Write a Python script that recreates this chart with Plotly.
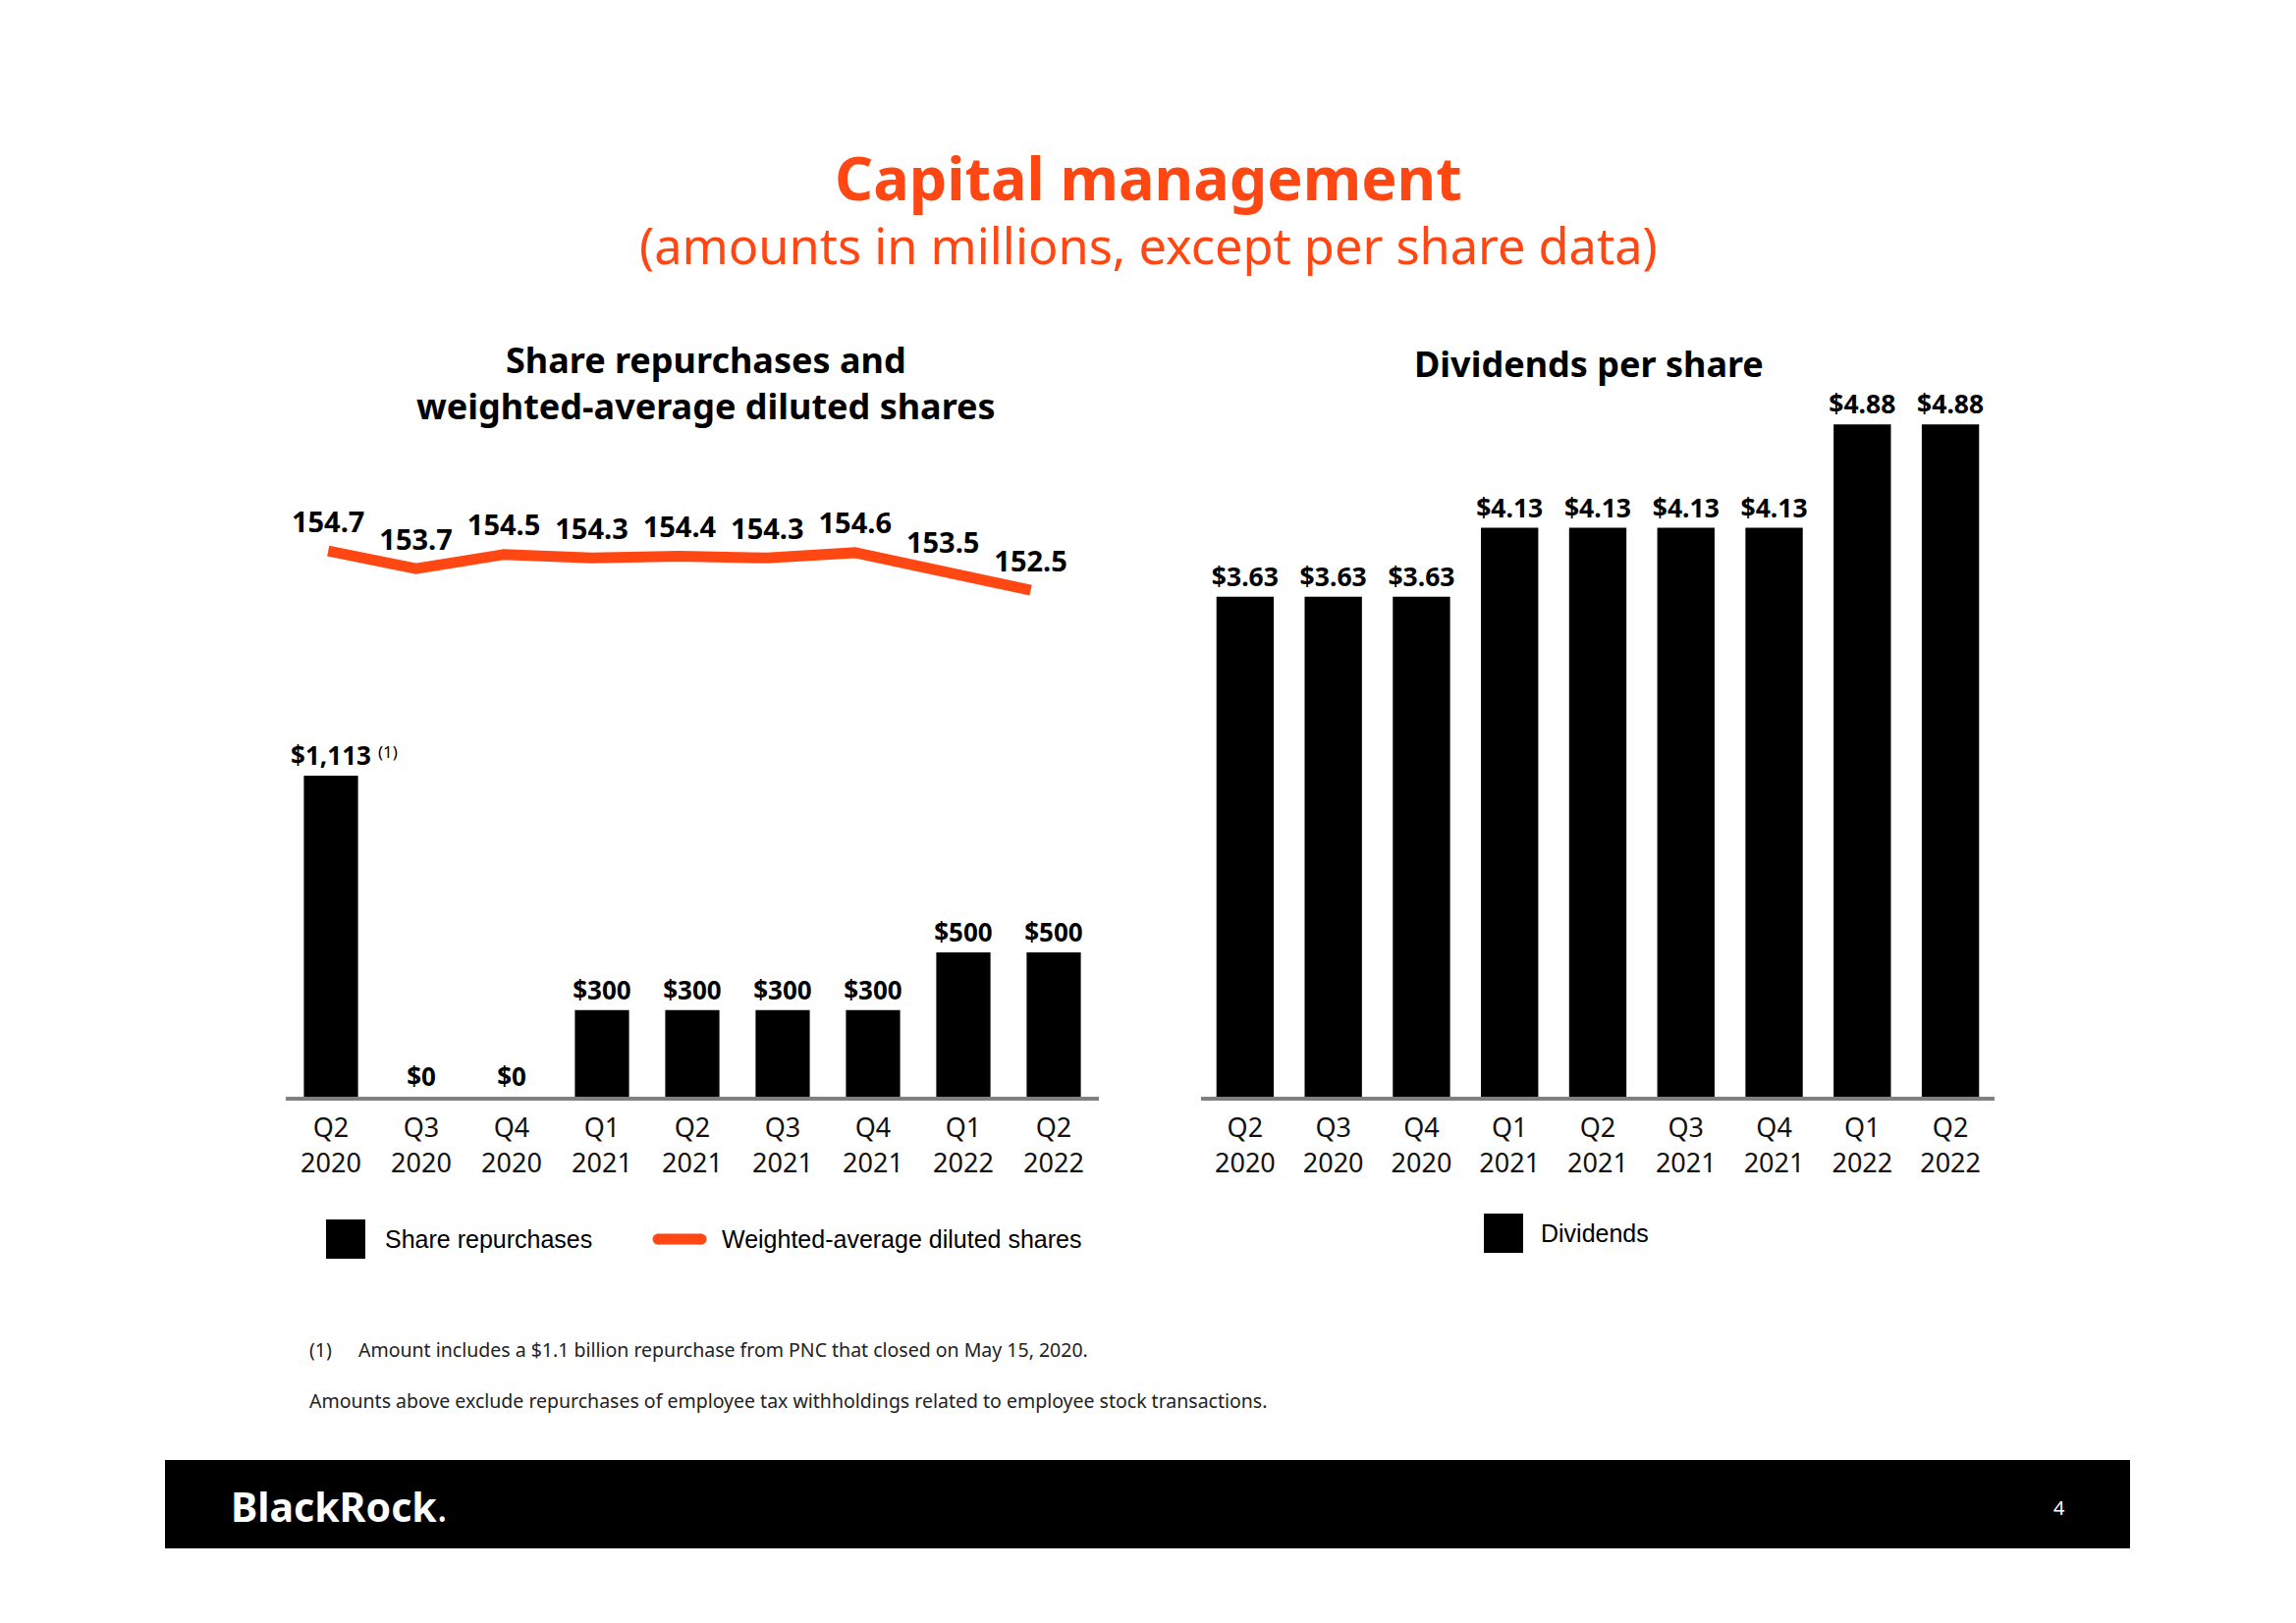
import plotly.graph_objects as go

W, H = 2338, 1653
OFF = 8  # default page body margin in the browser

# ---------------- data ----------------
quarters = ["Q2", "Q3", "Q4", "Q1", "Q2", "Q3", "Q4", "Q1", "Q2"]
years = ["2020", "2020", "2020", "2021", "2021", "2021", "2021", "2022", "2022"]
repurchases = [1113, 0, 0, 300, 300, 300, 300, 500, 500]
diluted_shares = [154.7, 153.7, 154.5, 154.3, 154.4, 154.3, 154.6, 153.5, 152.5]
dividends = [3.63, 3.63, 3.63, 4.13, 4.13, 4.13, 4.13, 4.88, 4.88]

categories = [f"{q}<br>{y}" for q, y in zip(quarters, years)]

ORANGE = "#FF4713"
FONT = "Noto Sans"


def px(x):
    return (x - OFF) / W


def py(y):
    return 1 - (y - OFF) / H


fig = go.Figure()

fig.add_trace(go.Bar(
    x=categories, y=repurchases, xaxis="x", yaxis="y", width=0.6,
    marker=dict(color="black", line=dict(width=0)),
    text=[f"${v:,.0f}" for v in repurchases], textposition="outside",
    constraintext="none",
    textfont=dict(family=FONT, size=26, color="black", weight="bold"),
    cliponaxis=False, showlegend=False, name="Share repurchases",
))
fig.add_trace(go.Scatter(
    x=categories, y=diluted_shares, xaxis="x3", yaxis="y2",
    mode="lines+markers+text",
    line=dict(color=ORANGE, width=11),
    marker=dict(size=18, opacity=0, color=ORANGE),
    text=[f"{v:.1f}" for v in diluted_shares], textposition="top center",
    textfont=dict(family=FONT, size=29, color="black", weight="bold"),
    cliponaxis=False, showlegend=False, name="Weighted-average diluted shares",
))
fig.add_trace(go.Bar(
    x=categories, y=dividends, xaxis="x2", yaxis="y3", width=0.65,
    marker=dict(color="black", line=dict(width=0)),
    text=[f"${v:.2f}" for v in dividends], textposition="outside",
    constraintext="none",
    textfont=dict(family=FONT, size=26.5, color="black", weight="bold"),
    cliponaxis=False, showlegend=False, name="Dividends",
))

ydom = [py(1117), py(380)]
xaxis_common = dict(
    type="category", showgrid=False, zeroline=False, ticks="",
    showline=True, linecolor="#808080", linewidth=4,
    tickfont=dict(family=FONT, size=27, color="#111111"),
    ticklabelstandoff=5,
)

fig.update_layout(
    width=W, height=H,
    margin=dict(l=0, r=0, t=0, b=0),
    paper_bgcolor="white", plot_bgcolor="rgba(0,0,0,0)",
    xaxis=dict(domain=[px(291), px(1119)], anchor="y", range=[-0.5, 8.5], **xaxis_common),
    yaxis=dict(domain=ydom, range=[0, 2508], visible=False, anchor="x"),
    xaxis3=dict(domain=[px(289.5), px(1094.3)], type="category", visible=False,
                range=[-0.5, 8.5], anchor="y2"),
    yaxis2=dict(domain=ydom, range=[124.15, 164.65], visible=False, anchor="x3"),
    xaxis2=dict(domain=[px(1223), px(2031)], anchor="y3", range=[-0.5, 8.5], **xaxis_common),
    yaxis3=dict(domain=ydom, range=[0, 5.253], visible=False, anchor="x2"),
)

ann = []
shapes = []

# main title & subtitle
ann.append(dict(text="<b>Capital management</b>", x=px(1169), y=py(180),
                font=dict(family=FONT, size=61, color=ORANGE)))
ann.append(dict(text="(amounts in millions, except per share data)", x=px(1169), y=py(249),
                font=dict(family=FONT, size=50.5, color=ORANGE)))
# chart titles
ann.append(dict(text="<b>Share repurchases and<br>weighted-average diluted shares</b>",
                x=px(719), y=py(390), font=dict(family=FONT, size=36, color="black")))
ann.append(dict(text="<b>Dividends per share</b>", x=px(1618), y=py(370),
                font=dict(family=FONT, size=36, color="black")))
# footnote marker
ann.append(dict(text="(1)", x=px(395), y=py(765),
                font=dict(family=FONT, size=17, color="black")))

# legends
shapes.append(dict(type="rect", xref="paper", yref="paper",
                   x0=px(332), x1=px(372), y0=py(1282), y1=py(1242),
                   fillcolor="black", line=dict(width=0)))
ann.append(dict(text="Share repurchases", x=px(390), y=py(1262), xanchor="left",
                font=dict(family="Liberation Sans", size=25, color="black")))
shapes.append(dict(type="line", xref="paper", yref="paper",
                   x0=px(670), x1=px(714), y0=py(1262), y1=py(1262),
                   line=dict(color=ORANGE, width=11)))
for cx in (670, 714):
    shapes.append(dict(type="circle", xref="paper", yref="paper",
                       x0=px(cx - 5.5), x1=px(cx + 5.5), y0=py(1267.5), y1=py(1256.5),
                       fillcolor=ORANGE, line=dict(width=0)))
ann.append(dict(text="Weighted-average diluted shares", x=px(733), y=py(1262), xanchor="left",
                font=dict(family="Liberation Sans", size=25, color="black")))
shapes.append(dict(type="rect", xref="paper", yref="paper",
                   x0=px(1511), x1=px(1551), y0=py(1276), y1=py(1236),
                   fillcolor="black", line=dict(width=0)))
ann.append(dict(text="Dividends", x=px(1567), y=py(1256), xanchor="left",
                font=dict(family="Liberation Sans", size=25, color="black")))

# footnotes
ann.append(dict(text="(1)", x=px(313), y=py(1374), xanchor="left",
                font=dict(family=FONT, size=19.5, color="#222222")))
ann.append(dict(text="Amount includes a $1.1 billion repurchase from PNC that closed on May 15, 2020.",
                x=px(363), y=py(1374), xanchor="left",
                font=dict(family=FONT, size=19.5, color="#222222")))
ann.append(dict(text="Amounts above exclude repurchases of employee tax withholdings related to employee stock transactions.",
                x=px(313), y=py(1426), xanchor="left",
                font=dict(family=FONT, size=19.5, color="#222222")))

# footer
shapes.append(dict(type="rect", xref="paper", yref="paper", layer="below",
                   x0=px(168), x1=px(2169), y0=py(1577), y1=py(1487),
                   fillcolor="black", line=dict(width=0)))
ann.append(dict(text="<b>BlackRock</b>.", x=px(233), y=py(1534), xanchor="left",
                font=dict(family=FONT, size=41, color="white")))
ann.append(dict(text="4", x=px(2097), y=py(1535),
                font=dict(family=FONT, size=20, color="white")))

for a in ann:
    a.setdefault("xref", "paper")
    a.setdefault("yref", "paper")
    a.setdefault("showarrow", False)
    a.setdefault("xanchor", "center")
    a.setdefault("yanchor", "middle")

fig.update_layout(annotations=ann, shapes=shapes)

fig.write_html("out.html")
